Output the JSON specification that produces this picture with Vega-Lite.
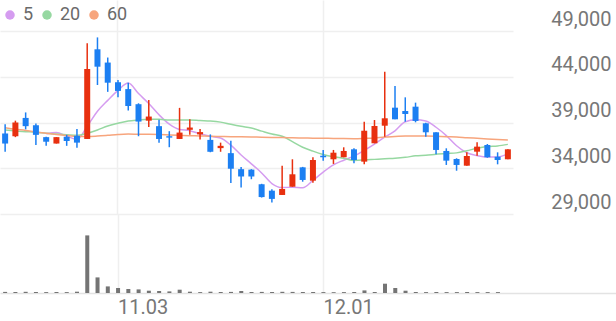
{
  "$schema": "https://vega.github.io/schema/vega-lite/v6.json",
  "padding": 0,
  "spacing": 0,
  "background": "white",
  "config": {
    "view": {"stroke": null},
    "font": "Roboto",
    "axis": {"gridColor": "#efefef", "gridWidth": 1.5},
    "legend": {"labelFontSize": 18, "labelColor": "#6a6a6a", "labelOffset": 4, "columnPadding": 4, "padding": 0, "gridAlign": "none", "symbolSize": 90, "symbolStrokeWidth": 0, "symbolType": "circle", "titleFontSize": 0}
  },
  "datasets": {
    "candles": [
      {"d": "10.17", "o": 37800, "h": 38800, "l": 35800, "c": 36700, "v": 110000, "ma20": 38180, "ma60": 38430},
      {"d": "10.20", "o": 37500, "h": 39200, "l": 37400, "c": 39000, "v": 100000, "ma20": 38070, "ma60": 38260},
      {"d": "10.21", "o": 39500, "h": 40100, "l": 38250, "c": 38600, "v": 120000, "ma20": 38000, "ma60": 38130},
      {"d": "10.22", "o": 38700, "h": 38900, "l": 36550, "c": 37650, "v": 100000, "ma20": 37930, "ma60": 37960},
      {"d": "10.23", "o": 37400, "h": 37450, "l": 36450, "c": 36900, "v": 90000, "ma5": 37770, "ma20": 37820, "ma60": 37820},
      {"d": "10.24", "o": 36700, "h": 37400, "l": 36700, "c": 37400, "v": 100000, "ma5": 37910, "ma20": 37740, "ma60": 37690},
      {"d": "10.27", "o": 37450, "h": 37650, "l": 36450, "c": 36980, "v": 90000, "ma5": 37510, "ma20": 37670, "ma60": 37580},
      {"d": "10.28", "o": 37550, "h": 38300, "l": 36250, "c": 36800, "v": 130000, "ma5": 37150, "ma20": 37600, "ma60": 37490},
      {"d": "10.29", "o": 37200, "h": 47650, "l": 37200, "c": 44850, "v": 5760000, "ma5": 38590, "ma20": 37820, "ma60": 37470},
      {"d": "10.30", "o": 47000, "h": 48300, "l": 43100, "c": 45100, "v": 1560000, "ma5": 40230, "ma20": 38180, "ma60": 37520},
      {"d": "10.31", "o": 45550, "h": 46100, "l": 42350, "c": 43350, "v": 660000, "ma5": 41420, "ma20": 38620, "ma60": 37600},
      {"d": "11.03", "o": 43400, "h": 43650, "l": 41750, "c": 42450, "v": 500000, "ma5": 42510, "ma20": 38910, "ma60": 37690},
      {"d": "11.04", "o": 42650, "h": 43350, "l": 40300, "c": 40800, "v": 400000, "ma5": 43310, "ma20": 39160, "ma60": 37740},
      {"d": "11.05", "o": 41000, "h": 41100, "l": 37500, "c": 39100, "v": 360000, "ma5": 42160, "ma20": 39270, "ma60": 37720},
      {"d": "11.06", "o": 39200, "h": 41450, "l": 38500, "c": 39650, "v": 230000, "ma5": 41070, "ma20": 39350, "ma60": 37710},
      {"d": "11.07", "o": 38600, "h": 39300, "l": 36800, "c": 37200, "v": 200000, "ma5": 39840, "ma20": 39350, "ma60": 37680},
      {"d": "11.10", "o": 37500, "h": 38050, "l": 36300, "c": 37350, "v": 160000, "ma5": 38820, "ma20": 39270, "ma60": 37640},
      {"d": "11.11", "o": 37200, "h": 40600, "l": 37200, "c": 37900, "v": 330000, "ma5": 38240, "ma20": 39270, "ma60": 37600},
      {"d": "11.12", "o": 38200, "h": 39350, "l": 37650, "c": 38450, "v": 130000, "ma5": 38110, "ma20": 39270, "ma60": 37560},
      {"d": "11.13", "o": 37700, "h": 38300, "l": 37150, "c": 37950, "v": 90000, "ma5": 37770, "ma20": 39210, "ma60": 37530},
      {"d": "11.14", "o": 37100, "h": 37700, "l": 35750, "c": 35800, "v": 130000, "ma5": 37490, "ma20": 39160, "ma60": 37490},
      {"d": "11.17", "o": 36200, "h": 36800, "l": 35800, "c": 36450, "v": 100000, "ma5": 37310, "ma20": 39040, "ma60": 37470},
      {"d": "11.18", "o": 35650, "h": 37000, "l": 32400, "c": 33950, "v": 110000, "ma5": 36520, "ma20": 38800, "ma60": 37450},
      {"d": "11.19", "o": 33900, "h": 34150, "l": 31900, "c": 33100, "v": 200000, "ma5": 35450, "ma20": 38580, "ma60": 37440},
      {"d": "11.20", "o": 33850, "h": 33900, "l": 32800, "c": 33100, "v": 100000, "ma5": 34480, "ma20": 38390, "ma60": 37420},
      {"d": "11.21", "o": 32250, "h": 32300, "l": 30800, "c": 30850, "v": 110000, "ma5": 33490, "ma20": 38060, "ma60": 37390},
      {"d": "11.24", "o": 31550, "h": 31700, "l": 30250, "c": 30650, "v": 100000, "ma5": 32330, "ma20": 37740, "ma60": 37370},
      {"d": "11.25", "o": 31080, "h": 34280, "l": 31080, "c": 31730, "v": 120000, "ma5": 31890, "ma20": 37490, "ma60": 37360},
      {"d": "11.26", "o": 31980, "h": 34980, "l": 31980, "c": 33340, "v": 110000, "ma5": 31930, "ma20": 36910, "ma60": 37330},
      {"d": "11.27", "o": 34100, "h": 34150, "l": 32530, "c": 32720, "v": 100000, "ma5": 31860, "ma20": 36300, "ma60": 37310},
      {"d": "11.28", "o": 32640, "h": 35200, "l": 32420, "c": 34900, "v": 100000, "ma5": 32670, "ma20": 35870, "ma60": 37290},
      {"d": "12.01", "o": 35370, "h": 36000, "l": 34830, "c": 35200, "v": 90000, "ma5": 33580, "ma20": 35510, "ma60": 37270},
      {"d": "12.02", "o": 34980, "h": 36000, "l": 34470, "c": 35700, "v": 80000, "ma5": 34370, "ma20": 35260, "ma60": 37260},
      {"d": "12.03", "o": 35200, "h": 36290, "l": 35200, "c": 35890, "v": 90000, "ma5": 34880, "ma20": 35090, "ma60": 37240},
      {"d": "12.04", "o": 36070, "h": 36180, "l": 34540, "c": 34900, "v": 100000, "ma5": 35320, "ma20": 34860, "ma60": 37230},
      {"d": "12.05", "o": 34720, "h": 39090, "l": 34430, "c": 38100, "v": 260000, "ma5": 35960, "ma20": 34900, "ma60": 37260},
      {"d": "12.08", "o": 36730, "h": 39270, "l": 36730, "c": 38620, "v": 100000, "ma5": 36640, "ma20": 34970, "ma60": 37310},
      {"d": "12.09", "o": 38650, "h": 44550, "l": 37450, "c": 39460, "v": 930000, "ma5": 37390, "ma20": 35040, "ma60": 37420},
      {"d": "12.10", "o": 40620, "h": 43000, "l": 39350, "c": 39350, "v": 500000, "ma5": 38090, "ma20": 35090, "ma60": 37470},
      {"d": "12.11", "o": 40260, "h": 41750, "l": 39090, "c": 39930, "v": 230000, "ma5": 39090, "ma20": 35190, "ma60": 37520},
      {"d": "12.12", "o": 40730, "h": 41170, "l": 39020, "c": 39170, "v": 100000, "ma5": 39310, "ma20": 35360, "ma60": 37530},
      {"d": "12.15", "o": 38910, "h": 38980, "l": 37450, "c": 37930, "v": 90000, "ma5": 39170, "ma20": 35430, "ma60": 37520},
      {"d": "12.16", "o": 37930, "h": 37930, "l": 35530, "c": 36000, "v": 100000, "ma5": 38480, "ma20": 35530, "ma60": 37490},
      {"d": "12.17", "o": 35890, "h": 36180, "l": 34360, "c": 34830, "v": 90000, "ma5": 37570, "ma20": 35620, "ma60": 37450},
      {"d": "12.18", "o": 35010, "h": 35090, "l": 33730, "c": 34360, "v": 90000, "ma5": 36460, "ma20": 35680, "ma60": 37420},
      {"d": "12.19", "o": 34280, "h": 35740, "l": 34280, "c": 35340, "v": 100000, "ma5": 35690, "ma20": 35910, "ma60": 37340},
      {"d": "12.22", "o": 35810, "h": 36840, "l": 35370, "c": 36360, "v": 90000, "ma5": 35380, "ma20": 36190, "ma60": 37270},
      {"d": "12.23", "o": 36540, "h": 36650, "l": 35150, "c": 35200, "v": 90000, "ma5": 35220, "ma20": 36370, "ma60": 37200},
      {"d": "12.24", "o": 35260, "h": 35740, "l": 34430, "c": 34900, "v": 90000, "ma5": 35230, "ma20": 36440, "ma60": 37140},
      {"d": "12.26", "o": 34980, "h": 36070, "l": 34980, "c": 36070, "v": 0, "ma5": 35570, "ma20": 36610, "ma60": 37090}
    ]
  },
  "vconcat": [
    {
      "width": 513,
      "height": 214,
      "data": {"name": "candles"},
      "encoding": {
        "x": {
          "field": "d",
          "type": "ordinal",
          "scale": {"paddingInner": 0, "paddingOuter": 0, "round": false},
          "axis": {"values": ["11.03", "12.01"], "grid": true, "labels": false, "ticks": false, "domain": false, "title": null}
        }
      },
      "layer": [
        {
          "transform": [{"fold": ["ma5", "ma20", "ma60"], "as": ["key", "val"]}],
          "mark": {"type": "line", "interpolate": "monotone", "strokeWidth": 1.5},
          "encoding": {
            "y": {
              "field": "val", "type": "quantitative",
              "scale": {"domain": [29000, 52388], "nice": false, "zero": false},
              "axis": {"orient": "right", "values": [29000, 34000, 39000, 44000, 49000], "grid": true, "domain": false, "ticks": false, "tickSize": 0, "labelAlign": "right", "labelBaseline": "alphabetic", "labelOffset": -6, "labelPadding": 98, "labelFontSize": 20, "labelColor": "#777777", "labelOverlap": false, "labelFlush": false, "format": ",d", "title": null}
            },
            "color": {
              "field": "key", "type": "nominal",
              "scale": {"domain": ["ma5", "ma20", "ma60"], "range": ["#d59cf0", "#96d8a1", "#f7a57d"]},
              "legend": {"orient": "none", "legendX": 1, "legendY": 6, "direction": "horizontal", "gridAlign": "none", "title": null, "symbolType": "circle", "symbolSize": 90, "symbolStrokeWidth": 0, "labelFontSize": 18, "labelColor": "#6a6a6a", "labelOffset": 4, "columnPadding": 4, "padding": 0, "labelExpr": "replace(datum.label, 'ma', '')",
                "encode": {
                  "symbols": {"update": {"fill": {"signal": "scale('color', datum.value)"}, "strokeWidth": {"value": 0}, "size": {"value": 90}}},
                  "labels": {"update": {"fontSize": {"value": 18}}}
                }}
            }
          }
        },
        {
          "mark": {"type": "rule", "strokeWidth": 1.5},
          "encoding": {
            "y": {
              "field": "l", "type": "quantitative",
              "scale": {"domain": [29000, 52388], "nice": false, "zero": false},
              "axis": {"orient": "right", "values": [29000, 34000, 39000, 44000, 49000], "grid": true, "domain": false, "ticks": false, "tickSize": 0, "labelAlign": "right", "labelBaseline": "alphabetic", "labelOffset": -6, "labelPadding": 98, "labelFontSize": 20, "labelColor": "#777777", "labelOverlap": false, "labelFlush": false, "format": ",d", "title": null}
            },
            "y2": {"field": "h"},
            "color": {"condition": {"test": "datum.c >= datum.o", "value": "#e8300f"}, "value": "#1c7ff2"}
          }
        },
        {
          "mark": {"type": "bar", "width": 6},
          "encoding": {
            "y": {
              "field": "o", "type": "quantitative",
              "scale": {"domain": [29000, 52388], "nice": false, "zero": false},
              "axis": {"orient": "right", "values": [29000, 34000, 39000, 44000, 49000], "grid": true, "domain": false, "ticks": false, "tickSize": 0, "labelAlign": "right", "labelBaseline": "alphabetic", "labelOffset": -6, "labelPadding": 98, "labelFontSize": 20, "labelColor": "#777777", "labelOverlap": false, "labelFlush": false, "format": ",d", "title": null}
            },
            "y2": {"field": "c"},
            "color": {"condition": {"test": "datum.c >= datum.o", "value": "#e8300f"}, "value": "#1c7ff2"}
          }
        }
      ]
    },
    {
      "width": 616,
      "height": 79,
      "data": {"name": "candles"},
      "mark": {"type": "bar", "width": 4, "color": "#747474"},
      "encoding": {
        "x": {
          "field": "d",
          "type": "ordinal",
          "scale": {
            "domain": ["10.17", "10.20", "10.21", "10.22", "10.23", "10.24", "10.27", "10.28", "10.29", "10.30", "10.31", "11.03", "11.04", "11.05", "11.06", "11.07", "11.10", "11.11", "11.12", "11.13", "11.14", "11.17", "11.18", "11.19", "11.20", "11.21", "11.24", "11.25", "11.26", "11.27", "11.28", "12.01", "12.02", "12.03", "12.04", "12.05", "12.08", "12.09", "12.10", "12.11", "12.12", "12.15", "12.16", "12.17", "12.18", "12.19", "12.22", "12.23", "12.24", "12.26", "12.29", "12.30", "12.31", "01.02", "01.05", "01.06", "01.07", "01.08", "01.09", "01.12"],
            "paddingInner": 0, "paddingOuter": 0, "round": false
          },
          "axis": {"values": ["11.03", "12.01"], "grid": true, "ticks": false, "domain": true, "domainColor": "#e3e3e3", "domainWidth": 1.5, "labelAlign": "left", "labelBaseline": "top", "labelPadding": 4, "labelFontSize": 20, "labelColor": "#777777", "labelAngle": 0, "title": null}
        },
        "y": {"field": "v", "type": "quantitative", "scale": {"domain": [0, 7900000]}, "axis": null}
      }
    }
  ]
}
